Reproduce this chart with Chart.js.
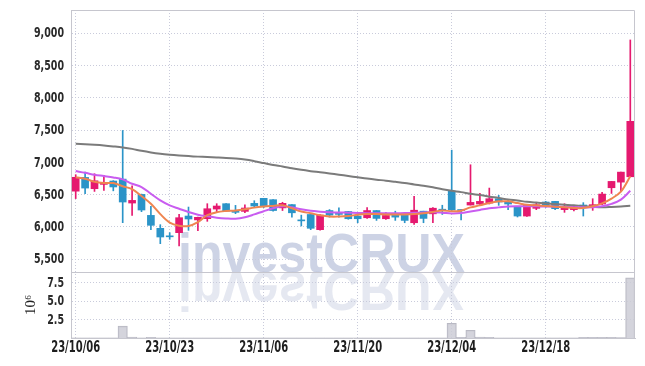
<!DOCTYPE html>
<html><head><meta charset="utf-8">
<script src="https://cdn.jsdelivr.net/npm/chart.js@4"></script>
<style>html,body{margin:0;padding:0;background:#fff}#wrap{width:645px;height:366px;position:relative}</style>
</head><body><div id="wrap"><canvas id="c"></canvas></div>
<script>
const dates = ['23/10/06','23/10/10','23/10/11','23/10/12','23/10/13','23/10/16','23/10/17','23/10/18','23/10/19','23/10/20',
'23/10/23','23/10/24','23/10/25','23/10/26','23/10/27','23/10/30','23/10/31','23/11/01','23/11/02','23/11/03',
'23/11/06','23/11/07','23/11/08','23/11/09','23/11/10','23/11/13','23/11/14','23/11/15','23/11/16','23/11/17',
'23/11/20','23/11/21','23/11/22','23/11/23','23/11/24','23/11/27','23/11/28','23/11/29','23/11/30','23/12/01',
'23/12/04','23/12/05','23/12/06','23/12/07','23/12/08','23/12/11','23/12/12','23/12/13','23/12/14','23/12/15',
'23/12/18','23/12/19','23/12/20','23/12/21','23/12/22','23/12/26','23/12/27','23/12/28','24/01/02','24/01/03'];
const shownDates = ['23/10/06','23/10/23','23/11/06','23/11/20','23/12/04','23/12/18'];
const openP  = [6555,6768,6593,6660,6712,6742,6371,6505,6180,5979, 5855,5912,6170,6110,6129,6278,6361,6258,6242,6366,
                6444,6423,6296,6347,6100,6194,5959,6255,6200,6240, 6168,6143,6255,6128,6194,6204,6066,6245,6204,6265,
                6555,6262,6340,6356,6371,6438,6397,6320,6170,6289, 6387,6397,6269,6269,6330,6300,6356,6608,6695,6778];
const highP  = [6810,6850,6825,6799,6718,7495,6639,6510,6320,6036, 5912,6196,6309,6152,6361,6361,6361,6335,6345,6407,
                6444,6423,6383,6347,6184,6194,6194,6270,6296,6240, 6194,6301,6255,6225,6245,6220,6475,6245,6301,6337,
                7190,6270,6964,6521,6603,6490,6428,6320,6335,6381, 6397,6397,6361,6330,6377,6438,6536,6706,6850,8897];
const lowP   = [6440,6515,6551,6567,6560,6067,6180,6237,5959,5742, 5809,5706,5948,5944,6088,6232,6240,6206,6222,6309,
                6300,6245,6255,6153,6016,5959,5949,6153,6153,6120, 6066,6133,6102,6118,6102,6066,6041,6066,6066,6194,
                6255,6110,6340,6350,6356,6335,6268,6155,6165,6268, 6304,6270,6227,6250,6170,6258,6346,6520,6557,6778];
const closeP = [6770,6603,6716,6691,6620,6387,6412,6263,6026,5845, 5848,6144,6124,6150,6283,6325,6247,6227,6294,6325,
                6316,6255,6367,6220,6095,5980,6184,6184,6195,6128, 6128,6255,6133,6179,6153,6102,6260,6133,6291,6260,
                6265,6255,6381,6397,6438,6387,6356,6170,6335,6345, 6325,6284,6315,6315,6325,6346,6510,6706,6850,7637];
const ma5    = [6770,6748,6700,6682,6680,6632,6585,6480,6360,6200, 6068,6020,6015,6075,6183,6230,6248,6256,6275,6300,
                6316,6327,6337,6290,6239,6213,6182,6162,6162,6170, 6190,6200,6200,6195,6195,6195,6200,6213,6234,6254,
                6245,6253,6304,6335,6371,6397,6397,6371,6345,6335, 6325,6315,6304,6294,6294,6320,6365,6440,6548,6785];
const ma20   = [6866,6840,6809,6789,6768,6737,6670,6619,6515,6412, 6335,6283,6232,6191,6165,6144,6132,6128,6150,6195,
                6245,6290,6320,6305,6275,6250,6238,6230,6225,6222, 6218,6214,6212,6212,6214,6216,6220,6225,6230,6222,
                6210,6216,6240,6265,6290,6304,6318,6322,6322,6320, 6318,6314,6310,6306,6304,6306,6320,6358,6425,6560];
const maLong = [7289,7282,7273,7262,7248,7232,7210,7180,7155,7135, 7120,7108,7098,7090,7083,7077,7070,7060,7045,7020,
                6990,6960,6937,6910,6885,6865,6848,6830,6810,6790, 6770,6750,6733,6718,6700,6682,6660,6640,6615,6585,
                6560,6540,6515,6495,6470,6450,6425,6410,6390,6378, 6368,6355,6345,6335,6322,6312,6305,6310,6318,6330];
const volume = [0.01,0.01,0.01,0.01,0.01,1.6,0.12,0.01,0.1,0.01, 0.01,0.01,0.01,0.01,0.01,0.01,0.01,0.01,0.01,0.01,
                0.01,0.01,0.01,0.01,0.01,0.01,0.01,0.01,0.01,0.01, 0.01,0.01,0.01,0.01,0.01,0.01,0.01,0.01,0.01,0.01,
                2.0,0.1,1.05,0.12,0.1,0.01,0.01,0.01,0.01,0.01, 0.01,0.01,0.01,0.01,0.1,0.1,0.1,0.1,0.06,8.15];
const priceTicks = [5500,6000,6500,7000,7500,8000,8500,9000];
const volTicks = [2.5,5.0,7.5];

const UP = '#e5196f', DOWN = '#2b94c8';
const candleColors = closeP.map((c,i) => c >= openP[i] ? UP : DOWN);
const wicks = lowP.map((l,i) => [l, highP[i]]);
const bodies = openP.map((o,i) => [o, closeP[i]]);

const LABEL_FAMILY = '"Liberation Sans Narrow", "DejaVu Sans Condensed", "DejaVu Sans", sans-serif';

function drawSquashed(ctx, text, x, y, sx) {
  ctx.save(); ctx.translate(x, y); ctx.scale(sx, 1); ctx.fillText(text, 0, 0); ctx.restore();
}

const deco = {
  id: 'deco',
  beforeDraw(chart) {
    const {ctx, chartArea: a} = chart;
    const yv = chart.scales.yVol;
    ctx.save();
    ctx.beginPath(); ctx.rect(a.left, a.top, a.right - a.left, a.bottom - a.top); ctx.clip();
    ctx.font = 'bold 56px "Liberation Sans", Arial, sans-serif';
    const txt = 'investCRUX';
    const w = ctx.measureText(txt).width;
    ctx.translate(178, Math.round(yv.top));
    ctx.scale(287 / w, 1);
    ctx.textBaseline = 'alphabetic';
    ctx.fillStyle = 'rgba(160,170,205,0.52)';
    ctx.fillText(txt, 0, 0);
    ctx.scale(1, -1);
    ctx.fillStyle = 'rgba(160,170,205,0.27)';
    ctx.fillText(txt, 0, 0);
    ctx.restore();
  },
  afterDraw(chart) {
    const {ctx, chartArea: a} = chart;
    const sy = chart.scales.y, sv = chart.scales.yVol, sxs = chart.scales.x;
    ctx.save();
    ctx.strokeStyle = '#c6c6ce'; ctx.lineWidth = 1;
    ctx.beginPath();
    ctx.moveTo(a.left, a.top + 0.5); ctx.lineTo(a.right - 0.5, a.top + 0.5); ctx.lineTo(a.right - 0.5, a.bottom);
    ctx.moveTo(a.left, Math.round(sv.top) + 0.5); ctx.lineTo(a.right, Math.round(sv.top) + 0.5);
    ctx.stroke();

    // y tick labels
    ctx.font = 'bold 14px ' + LABEL_FAMILY;
    ctx.fillStyle = '#2a2a2a'; ctx.textAlign = 'right'; ctx.textBaseline = 'middle';
    const ys = 30 / ctx.measureText('9,000').width;
    priceTicks.forEach(v => drawSquashed(ctx, v.toLocaleString('en-US'), 64, sy.getPixelForValue(v) + 0.5, ys));
    volTicks.forEach(v => drawSquashed(ctx, v.toFixed(1), 64, sv.getPixelForValue(v) + 0.5, ys));

    // x tick labels
    ctx.font = 'bold 15px ' + LABEL_FAMILY;
    ctx.fillStyle = '#1e1e1e'; ctx.textAlign = 'center';
    const xs = 49 / ctx.measureText('23/10/06').width;
    dates.forEach((d, i) => {
      if (shownDates.includes(d)) drawSquashed(ctx, d, sxs.getPixelForValue(i), 348, xs);
    });
    ctx.restore();
  }
};

const gridColor = '#c9cbdb';
const hidden = 'rgba(0,0,0,0)';

new Chart(document.getElementById('c'), {
  data: {
    labels: dates,
    datasets: [
      {type: 'line', label: 'MA5', data: ma5, yAxisID: 'y', borderColor: '#ef8550', borderWidth: 2, pointRadius: 0, tension: 0.35, order: 0},
      {type: 'line', label: 'MA20', data: ma20, yAxisID: 'y', borderColor: '#c95cf0', borderWidth: 2, pointRadius: 0, tension: 0.35, order: 0},
      {type: 'line', label: 'MA60', data: maLong, yAxisID: 'y', borderColor: '#7b7b7b', borderWidth: 2, pointRadius: 0, tension: 0.35, order: 0},
      {type: 'bar', label: 'wick', data: wicks, yAxisID: 'y', backgroundColor: candleColors, barThickness: 1, grouped: false, order: 2},
      {type: 'bar', label: 'body', data: bodies, yAxisID: 'y', backgroundColor: candleColors, barThickness: 7, minBarLength: 1, grouped: false, order: 1},
      {type: 'bar', label: 'volume', data: volume, yAxisID: 'yVol', backgroundColor: 'rgba(205,205,214,0.85)', borderColor: '#b9b9c3', borderWidth: 1, barPercentage: 1, categoryPercentage: 1, grouped: false, order: 3}
    ]
  },
  options: {
    responsive: true, maintainAspectRatio: false, animation: false,
    layout: {padding: {left: 0, right: 10, top: 10, bottom: 0}},
    plugins: {legend: {display: false}, tooltip: {enabled: false}},
    scales: {
      x: {
        type: 'category', offset: true,
        grid: {offset: false, drawTicks: false,
          color: c => (c.tick && shownDates.includes(dates[c.index])) ? gridColor : hidden},
        border: {display: true, color: '#c6c6ce', dash: [1, 2]},
        ticks: {display: false, autoSkip: false, maxRotation: 0},
        afterFit: s => { s.height = 28; s.paddingLeft = 0; s.paddingRight = 0; }
      },
      yVol: {
        type: 'linear', position: 'left', stack: 'panels', stackWeight: 66,
        min: 0, max: 8.95,
        grid: {color: gridColor, drawTicks: false},
        border: {display: true, color: '#c6c6ce', dash: [1, 2]},
        ticks: {display: false, autoSkip: false},
        afterBuildTicks: s => { s.ticks = volTicks.map(v => ({value: v})); },
        title: {display: true, text: '10⁶', color: '#222', padding: {top: 22, bottom: 0},
          font: {family: '"Liberation Serif", "DejaVu Serif", serif', size: 15}},
        afterFit: s => { s.width = 71; s.paddingTop = 0; s.paddingBottom = 0; }
      },
      y: {
        type: 'linear', position: 'left', stack: 'panels', stackWeight: 262,
        min: 5303, max: 9361,
        grid: {color: gridColor, drawTicks: false},
        border: {display: true, color: '#c6c6ce', dash: [1, 2]},
        ticks: {display: false, autoSkip: false},
        afterBuildTicks: s => { s.ticks = priceTicks.map(v => ({value: v})); },
        afterFit: s => { s.width = 71; s.paddingTop = 0; s.paddingBottom = 0; }
      }
    }
  },
  plugins: [deco]
});
</script></body></html>
